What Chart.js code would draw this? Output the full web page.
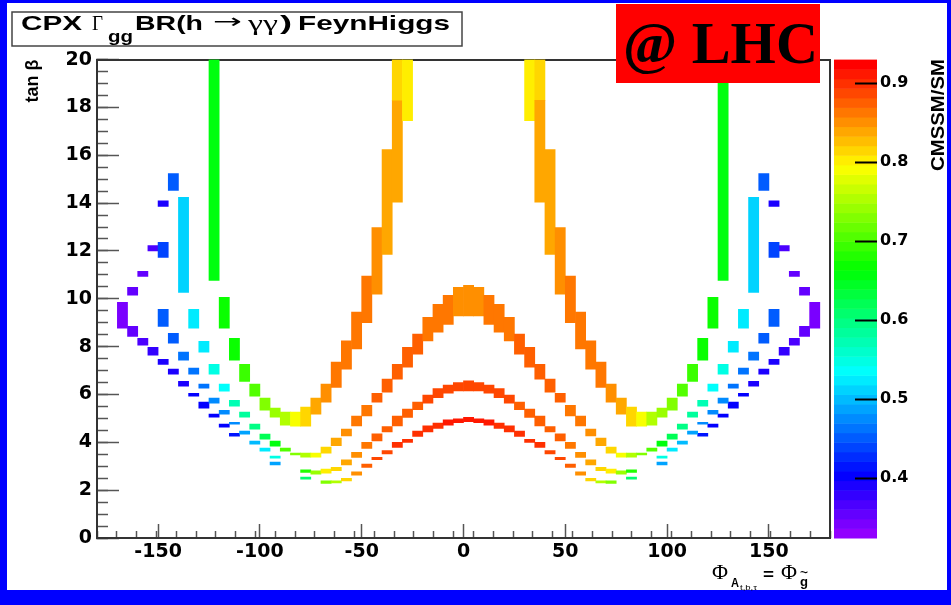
<!DOCTYPE html>
<html>
<head>
<meta charset="utf-8">
<title>CPX BR(h→γγ) FeynHiggs</title>
<script src="https://cdn.jsdelivr.net/npm/chart.js@4/dist/chart.umd.min.js"></script>
<style>
  html, body { margin: 0; padding: 0; background: #ffffff; }
  canvas { display: block; }
</style>
</head>
<body>
<canvas id="chart" width="951" height="605"></canvas>
<script>
// Axis ranges and tick labels
const phaseRange = [-180, 180];
const tanbRange = [0, 20];
const ratioRange = [0.324, 0.930];
const phaseTicks = [-150, -100, -50, 0, 50, 100, 150];
const tanbTicks = [0, 2, 4, 6, 8, 10, 12, 14, 16, 18, 20];
const ratioTicks = [0.4, 0.5, 0.6, 0.7, 0.8, 0.9];
const phaseBin = 5; // histogram bin width in degrees

// Filled cells: [phase bin start (deg), tanβ from, tanβ to, CMSSM/SM ratio]
const outerBranch = [
  [-125, 10.77, 20.0, 0.660], [-120, 8.77, 10.06, 0.665], [-115, 7.43, 8.35, 0.675],
  [-110, 6.55, 7.26, 0.690], [-105, 5.93, 6.43, 0.710], [-100, 5.34, 5.85, 0.730],
  [-95, 5.05, 5.43, 0.745], [-90, 4.72, 5.26, 0.755], [-85, 4.68, 5.26, 0.790],
  [-80, 4.68, 5.47, 0.815], [-75, 5.18, 5.85, 0.835], [-70, 5.68, 6.43, 0.850],
  [-65, 6.30, 7.35, 0.860], [-60, 7.06, 8.24, 0.865], [-55, 7.90, 9.45, 0.865],
  [-50, 9.00, 10.95, 0.860], [-45, 10.19, 12.98, 0.855], [-40, 11.86, 16.24, 0.840],
  [-35, 14.04, 18.30, 0.835], [-35, 18.30, 20.0, 0.820], [-30, 17.45, 20.0, 0.805],
  [30, 17.45, 20.0, 0.805], [35, 18.30, 20.0, 0.820], [35, 14.04, 18.30, 0.835],
  [40, 11.86, 16.24, 0.840], [45, 10.19, 12.98, 0.855], [50, 9.00, 10.95, 0.860],
  [55, 7.90, 9.45, 0.865], [60, 7.06, 8.24, 0.865], [65, 6.30, 7.35, 0.860],
  [70, 5.68, 6.43, 0.850], [75, 5.18, 5.85, 0.835], [80, 4.68, 5.47, 0.815],
  [85, 4.68, 5.26, 0.790], [90, 4.72, 5.26, 0.755], [95, 5.05, 5.43, 0.745],
  [100, 5.34, 5.85, 0.730], [105, 5.93, 6.43, 0.710], [110, 6.55, 7.26, 0.690],
  [115, 7.43, 8.35, 0.675], [120, 8.77, 10.06, 0.665], [125, 10.77, 20.0, 0.660]
];

const midArch = [
  [-140, 10.27, 14.24, 0.515], [-135, 8.77, 9.56, 0.520], [-130, 7.77, 8.22, 0.530],
  [-125, 6.85, 7.26, 0.550], [-120, 6.14, 6.43, 0.535], [-115, 5.51, 5.76, 0.570],
  [-110, 5.05, 5.26, 0.580], [-105, 4.55, 4.76, 0.600], [-100, 4.13, 4.34, 0.620],
  [-95, 3.84, 4.05, 0.660], [-90, 3.63, 3.76, 0.700], [-85, 3.47, 3.55, 0.735],
  [-80, 3.38, 3.55, 0.750], [-75, 3.38, 3.55, 0.790], [-70, 3.55, 3.80, 0.815],
  [-65, 3.86, 4.18, 0.840], [-60, 4.27, 4.55, 0.855], [-55, 4.69, 5.10, 0.860],
  [-50, 5.10, 5.55, 0.865], [-45, 5.68, 6.05, 0.870], [-40, 6.10, 6.64, 0.870],
  [-35, 6.64, 7.26, 0.870], [-30, 7.14, 7.97, 0.870], [-25, 7.68, 8.52, 0.870],
  [-20, 8.24, 9.23, 0.865], [-15, 8.60, 9.77, 0.865], [-10, 8.93, 10.15, 0.860],
  [-5, 9.28, 10.48, 0.855], [0, 9.28, 10.56, 0.855], [5, 9.28, 10.48, 0.855],
  [10, 8.93, 10.15, 0.860], [15, 8.60, 9.77, 0.865], [20, 8.24, 9.23, 0.865],
  [25, 7.68, 8.52, 0.870], [30, 7.14, 7.97, 0.870], [35, 6.64, 7.26, 0.870],
  [40, 6.10, 6.64, 0.870], [45, 5.68, 6.05, 0.870], [50, 5.10, 5.55, 0.865],
  [55, 4.69, 5.10, 0.860], [60, 4.27, 4.55, 0.855], [65, 3.86, 4.18, 0.840],
  [70, 3.55, 3.80, 0.815], [75, 3.38, 3.55, 0.790], [80, 3.38, 3.55, 0.750],
  [85, 3.47, 3.55, 0.735], [90, 3.63, 3.76, 0.700], [95, 3.84, 4.05, 0.660],
  [100, 4.13, 4.34, 0.620], [105, 4.55, 4.76, 0.600], [110, 5.05, 5.26, 0.580],
  [115, 5.51, 5.76, 0.570], [120, 6.14, 6.43, 0.535], [125, 6.85, 7.26, 0.550],
  [130, 7.77, 8.22, 0.530], [135, 8.77, 9.56, 0.520], [140, 10.27, 14.24, 0.515]
];

const lowArch = [
  [-145, 14.53, 15.24, 0.455], [-150, 11.73, 12.36, 0.440], [-150, 8.85, 9.56, 0.450],
  [-145, 8.14, 8.56, 0.455], [-140, 7.43, 7.77, 0.460], [-135, 6.85, 7.10, 0.460],
  [-130, 6.26, 6.43, 0.465], [-125, 5.64, 5.85, 0.470], [-120, 5.18, 5.34, 0.475],
  [-115, 4.76, 4.84, 0.480], [-110, 4.34, 4.47, 0.490], [-105, 3.92, 4.05, 0.500],
  [-100, 3.63, 3.76, 0.525], [-95, 3.34, 3.42, 0.550], [-80, 2.74, 2.85, 0.680],
  [-75, 2.67, 2.81, 0.740], [-70, 2.71, 2.88, 0.800], [-65, 2.81, 2.95, 0.820],
  [-60, 3.05, 3.27, 0.840], [-55, 3.37, 3.58, 0.855], [-50, 3.75, 4.00, 0.865],
  [-45, 4.06, 4.36, 0.870], [-40, 4.44, 4.66, 0.870], [-35, 4.69, 5.10, 0.875],
  [-30, 5.04, 5.39, 0.880], [-25, 5.36, 5.68, 0.880], [-20, 5.64, 5.97, 0.885],
  [-15, 5.87, 6.25, 0.885], [-10, 6.05, 6.39, 0.890], [-5, 6.15, 6.50, 0.890],
  [0, 6.15, 6.57, 0.890], [5, 6.15, 6.50, 0.890], [10, 6.05, 6.39, 0.890],
  [15, 5.87, 6.25, 0.885], [20, 5.64, 5.97, 0.885], [25, 5.36, 5.68, 0.880],
  [30, 5.04, 5.39, 0.880], [35, 4.69, 5.10, 0.875], [40, 4.44, 4.66, 0.870],
  [45, 4.06, 4.36, 0.870], [50, 3.75, 4.00, 0.865], [55, 3.37, 3.58, 0.855],
  [60, 3.05, 3.27, 0.840], [65, 2.81, 2.95, 0.820], [70, 2.71, 2.88, 0.800],
  [75, 2.67, 2.81, 0.740], [80, 2.74, 2.85, 0.680], [95, 3.34, 3.42, 0.550],
  [100, 3.63, 3.76, 0.525], [105, 3.92, 4.05, 0.500], [110, 4.34, 4.47, 0.490],
  [115, 4.76, 4.84, 0.480], [120, 5.18, 5.34, 0.475], [125, 5.64, 5.85, 0.470],
  [130, 6.26, 6.43, 0.465], [135, 6.85, 7.10, 0.460], [140, 7.43, 7.77, 0.460],
  [145, 8.14, 8.56, 0.455], [150, 8.85, 9.56, 0.450], [150, 11.73, 12.36, 0.440],
  [145, 14.53, 15.24, 0.455]
];

const baseArch = [
  [-150, 13.86, 14.10, 0.385], [-155, 12.00, 12.23, 0.370], [-160, 10.94, 11.15, 0.355],
  [-165, 10.15, 10.48, 0.350], [-170, 8.77, 9.85, 0.345], [-165, 8.43, 8.85, 0.360],
  [-160, 8.06, 8.35, 0.370], [-155, 7.64, 7.97, 0.375], [-150, 7.26, 7.47, 0.385],
  [-145, 6.85, 7.06, 0.390], [-140, 6.35, 6.55, 0.395], [-135, 5.93, 6.05, 0.400],
  [-130, 5.43, 5.68, 0.400], [-125, 5.05, 5.18, 0.400], [-120, 4.63, 4.76, 0.400],
  [-115, 4.26, 4.38, 0.410], [-95, 3.05, 3.17, 0.490], [-80, 2.46, 2.55, 0.610],
  [-70, 2.28, 2.39, 0.730], [-65, 2.30, 2.39, 0.760], [-60, 2.39, 2.49, 0.810],
  [-55, 2.63, 2.77, 0.855], [-50, 2.95, 3.09, 0.875], [-45, 3.27, 3.37, 0.885],
  [-40, 3.51, 3.65, 0.890], [-35, 3.79, 4.00, 0.895], [-30, 4.00, 4.13, 0.900],
  [-25, 4.25, 4.47, 0.900], [-20, 4.44, 4.69, 0.905], [-15, 4.58, 4.80, 0.905],
  [-10, 4.72, 4.94, 0.910], [-5, 4.82, 4.98, 0.910], [0, 4.86, 5.04, 0.910],
  [5, 4.82, 4.98, 0.910], [10, 4.72, 4.94, 0.910], [15, 4.58, 4.80, 0.905],
  [20, 4.44, 4.69, 0.905], [25, 4.25, 4.47, 0.900], [30, 4.00, 4.13, 0.900],
  [35, 3.79, 4.00, 0.895], [40, 3.51, 3.65, 0.890], [45, 3.27, 3.37, 0.885],
  [50, 2.95, 3.09, 0.875], [55, 2.63, 2.77, 0.855], [60, 2.39, 2.49, 0.810],
  [65, 2.30, 2.39, 0.760], [70, 2.28, 2.39, 0.730], [80, 2.46, 2.55, 0.610],
  [95, 3.05, 3.17, 0.490], [115, 4.26, 4.38, 0.410], [120, 4.63, 4.76, 0.400],
  [125, 5.05, 5.18, 0.400], [130, 5.43, 5.68, 0.400], [135, 5.93, 6.05, 0.400],
  [140, 6.35, 6.55, 0.395], [145, 6.85, 7.06, 0.390], [150, 7.26, 7.47, 0.385],
  [155, 7.64, 7.97, 0.375], [160, 8.06, 8.35, 0.370], [165, 8.43, 8.85, 0.360],
  [170, 8.77, 9.85, 0.345], [165, 10.15, 10.48, 0.350], [160, 10.94, 11.15, 0.355],
  [155, 12.00, 12.23, 0.370], [150, 13.86, 14.10, 0.385]
];

// Rainbow palette: 50 colours from violet down to red
const NCOL = 50;
function paletteColor(i) {
  const hue = 280 - (i + 1) * (280 / NCOL);
  return 'hsl(' + hue.toFixed(1) + ',100%,50%)';
}
function ratioColor(v) {
  let i = Math.floor((v - ratioRange[0]) / (ratioRange[1] - ratioRange[0]) * NCOL);
  i = Math.max(0, Math.min(NCOL - 1, i));
  return paletteColor(i);
}
function toCells(rows) {
  return rows.map(r => ({ x: r[0] + phaseBin / 2, y: [r[1], r[2]], v: r[3] }));
}
function band(label, rows) {
  return {
    label,
    data: toCells(rows),
    backgroundColor: c => (c.raw ? ratioColor(c.raw.v) : '#000'),
    borderWidth: 0,
    borderSkipped: false,
    grouped: false,
    barPercentage: 1,
    categoryPercentage: 1
  };
}

const SANS = '"Liberation Sans", Arial, Helvetica, sans-serif';
const WIDE = '"DejaVu Sans", Verdana, sans-serif';
const SERIF = '"Liberation Serif", "Times New Roman", serif';
const tickFont = { family: WIDE, size: 19, weight: 'bold' };
const barFont = { family: WIDE, size: 16, weight: 'bold' };
const FRAME = '#333333';
const TICK = '#555555';

// Text squeezed/stretched to span [x0, x1]
function fitText(ctx, str, x0, x1, y, font) {
  ctx.save();
  ctx.font = font;
  ctx.textAlign = 'left';
  ctx.textBaseline = 'alphabetic';
  const w = ctx.measureText(str).width;
  ctx.translate(x0, y);
  ctx.scale((x1 - x0) / w, 1);
  ctx.fillText(str, 0, 0);
  ctx.restore();
}

const canvasFrame = {
  id: 'canvasFrame',
  beforeDraw(chart) {
    const ctx = chart.ctx;
    ctx.save();
    ctx.fillStyle = '#0000ff';
    ctx.fillRect(0, 0, chart.width, chart.height);
    ctx.fillStyle = '#ffffff';
    ctx.fillRect(7, 3, 940, 587);
    ctx.restore();
  }
};

const colorBar = {
  id: 'colorBar',
  afterDraw(chart) {
    const z = chart.scales.z;
    const ctx = chart.ctx;
    const x0 = 834, x1 = 877;
    ctx.save();
    for (let i = 0; i < NCOL; i++) {
      const v0 = ratioRange[0] + (ratioRange[1] - ratioRange[0]) * i / NCOL;
      const v1 = ratioRange[0] + (ratioRange[1] - ratioRange[0]) * (i + 1) / NCOL;
      const ya = z.getPixelForValue(v0), yb = z.getPixelForValue(v1);
      ctx.fillStyle = paletteColor(i);
      ctx.fillRect(x0, yb, x1 - x0, ya - yb + 0.5);
    }
    ctx.strokeStyle = '#000';
    ctx.lineWidth = 2;
    ratioTicks.forEach(t => {
      const y = Math.round(z.getPixelForValue(t)) + 0.5;
      ctx.beginPath();
      ctx.moveTo(855, y);
      ctx.lineTo(x1, y);
      ctx.stroke();
    });
    // colour axis title, reading upwards
    ctx.fillStyle = '#000';
    ctx.translate(944, 59);
    ctx.rotate(-Math.PI / 2);
    ctx.textAlign = 'left';
    ctx.textBaseline = 'alphabetic';
    fitText(ctx, 'CMSSM/SM', -112, 0, 0, 'bold 19px ' + SANS);
    ctx.restore();
  }
};

const labels = {
  id: 'labels',
  afterDraw(chart) {
    const ctx = chart.ctx;
    ctx.save();
    // title box
    ctx.fillStyle = '#ffffff';
    ctx.fillRect(12, 12, 450, 34);
    ctx.strokeStyle = '#444';
    ctx.lineWidth = 1.5;
    ctx.strokeRect(12, 12, 450, 34);
    ctx.fillStyle = '#000';
    const tb = 'bold 21px ' + SANS;
    fitText(ctx, 'CPX', 21, 82, 29.5, tb);
    fitText(ctx, 'Γ', 92, 103, 29.5, '22px ' + SERIF);
    fitText(ctx, 'gg', 108, 133, 41.5, 'bold 17px ' + SANS);
    fitText(ctx, 'BR(h', 135, 203, 29.5, tb);
    fitText(ctx, '→', 213, 242, 28, '20px "DejaVu Sans", sans-serif');
    fitText(ctx, 'γγ', 248, 278, 29.5, '22px ' + SERIF);
    fitText(ctx, ')', 280, 292, 29.5, tb);
    fitText(ctx, 'FeynHiggs', 298, 450, 29.5, tb);

    // experiment tag
    ctx.fillStyle = '#ff0000';
    ctx.fillRect(616, 4, 204, 79);
    ctx.fillStyle = '#000';
    fitText(ctx, '@ LHC', 623, 818, 63, 'bold 60px ' + SERIF);

    // x axis title
    fitText(ctx, 'Φ', 712, 728, 579, '22px ' + SERIF);
    fitText(ctx, 'A', 731, 739, 587, 'bold 12px ' + SANS);
    fitText(ctx, 't,b,τ', 740, 757, 590, '8px ' + SANS);
    fitText(ctx, '=', 763, 774, 580, 'bold 16px ' + SANS);
    fitText(ctx, 'Φ', 781, 797, 579, '22px ' + SERIF);
    fitText(ctx, 'g', 800, 808, 586, 'bold 13px ' + SANS);
    fitText(ctx, '~', 800, 808, 576, 'bold 10px ' + SANS);
    ctx.restore();
  }
};

new Chart(document.getElementById('chart'), {
  type: 'bar',
  data: {
    datasets: [
      band('outer branch', outerBranch),
      band('middle arch', midArch),
      band('lower arch', lowArch),
      band('base arch', baseArch)
    ]
  },
  options: {
    responsive: false,
    animation: false,
    devicePixelRatio: 1,
    layout: { padding: { left: 0, right: 0, top: 59, bottom: 0 } },
    plugins: { legend: { display: false }, tooltip: { enabled: false }, title: { display: false } },
    scales: {
      x: {
        type: 'linear', position: 'bottom', min: phaseRange[0], max: phaseRange[1], offset: false,
        grid: { offset: false, drawOnChartArea: false, drawTicks: true, tickLength: -14, tickColor: TICK, tickWidth: 1.5 },
        border: { display: true, color: FRAME, width: 2 },
        ticks: { font: tickFont, color: '#000', padding: 17, autoSkip: false, maxRotation: 0, callback: v => String(v) },
        afterBuildTicks: s => { s.ticks = phaseTicks.map(v => ({ value: v })); },
        afterFit: s => { s.height = 67; }
      },
      xMinor: {
        type: 'linear', position: 'bottom', axis: 'x', weight: -1, min: phaseRange[0], max: phaseRange[1],
        ticks: { display: false, stepSize: 10 },
        grid: { drawOnChartArea: false, tickLength: -7, tickColor: TICK, tickWidth: 1.5 },
        border: { display: false },
        afterFit: s => { s.height = 0; }
      },
      xTop: {
        type: 'linear', position: 'top', axis: 'x', min: phaseRange[0], max: phaseRange[1],
        ticks: { display: false },
        grid: { drawOnChartArea: false, drawTicks: false },
        border: { display: true, color: FRAME, width: 2 },
        afterFit: s => { s.height = 0; }
      },
      y: {
        type: 'linear', position: 'left', min: tanbRange[0], max: tanbRange[1],
        grid: { drawOnChartArea: false, tickLength: -22, tickColor: TICK, tickWidth: 1.5 },
        border: { display: true, color: FRAME, width: 2 },
        ticks: { font: tickFont, color: '#000', padding: 27, autoSkip: false },
        afterBuildTicks: s => { s.ticks = tanbTicks.map(v => ({ value: v })); },
        title: { display: true, text: 'tan β', align: 'end', color: '#000', font: { family: SANS, size: 18, weight: 'bold' }, padding: { top: 22, bottom: 0 } },
        afterFit: s => { s.width = 97; }
      },
      yMinor: {
        type: 'linear', position: 'left', axis: 'y', weight: -1, min: tanbRange[0], max: tanbRange[1],
        ticks: { display: false, stepSize: 0.5 },
        grid: { drawOnChartArea: false, tickLength: -11, tickColor: TICK, tickWidth: 1.5 },
        border: { display: false },
        afterFit: s => { s.width = 0; }
      },
      yRight: {
        type: 'linear', position: 'right', axis: 'y', weight: -1, min: tanbRange[0], max: tanbRange[1],
        ticks: { display: false },
        grid: { drawOnChartArea: false, drawTicks: false },
        border: { display: true, color: FRAME, width: 2 },
        afterFit: s => { s.width = 0; }
      },
      z: {
        type: 'linear', position: 'right', axis: 'y', weight: 0, min: ratioRange[0], max: ratioRange[1],
        grid: { display: false, drawOnChartArea: false, drawTicks: false },
        border: { display: false },
        ticks: { font: barFont, color: '#000', padding: 50, autoSkip: false, callback: v => v.toFixed(1) },
        afterBuildTicks: s => { s.ticks = ratioTicks.map(v => ({ value: v })); },
        afterFit: s => { s.width = 121; }
      }
    }
  },
  plugins: [canvasFrame, colorBar, labels]
});
</script>
</body>
</html>
